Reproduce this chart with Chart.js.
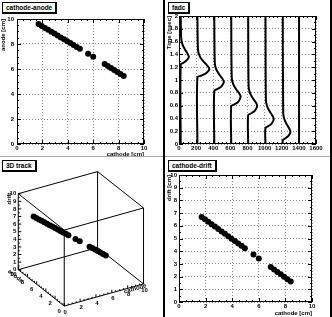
<!DOCTYPE html>
<html>
<head>
<meta charset="utf-8">
<script src="https://cdn.jsdelivr.net/npm/chart.js@4.4.1/dist/chart.umd.min.js"></script>
<style>
  body { margin: 0; background: #fff; }
  #toile { position: relative; width: 332px; height: 317px; overflow: hidden; background: #fff; }
  .pad { position: absolute; }
  .pad canvas { position: absolute; left: 0; top: 0; }
  .titre { position: absolute; left: 2px; top: 2px; background: #fff; border: 1px solid #000;
           border-right-width: 2px; border-bottom-width: 2px; padding: 0 3px; height: 9px;
           font: bold 6.5px "Liberation Sans", Arial, sans-serif; line-height: 9px; white-space: nowrap; }
  .trait { position: absolute; }
</style>
</head>
<body>
<div id="toile">
  <div class="pad" style="left:0;top:0"><canvas id="g1" width="166" height="158"></canvas><div class="titre">cathode-anode</div></div>
  <div class="pad" style="left:166px;top:0"><canvas id="g2" width="166" height="158"></canvas><div class="titre">fadc</div></div>
  <div class="pad" style="left:0;top:158px"><canvas id="g3" width="166" height="159"></canvas><div class="titre">3D track</div></div>
  <div class="pad" style="left:166px;top:158px"><canvas id="g4" width="166" height="159"></canvas><div class="titre">cathode-drift</div></div>
  <div class="trait" style="left:0;top:156px;width:332px;height:1px;background:#aaa"></div>
  <div class="trait" style="left:163px;top:0;width:2px;height:317px;background:#000"></div>
  <div class="trait" style="left:330px;top:0;width:2px;height:317px;background:#000"></div>
</div>
<script>
// Points de la trace (cm)
const cathode = [1.7, 1.95, 2.2, 2.45, 2.7, 2.95, 3.2, 3.45, 3.7, 3.95, 4.2, 4.45, 4.7, 4.95, 5.6, 6.0, 6.9, 7.15, 7.4, 7.65, 7.9, 8.15, 8.4];
const anode   = [9.6, 9.45, 9.29, 9.14, 8.99, 8.84, 8.69, 8.53, 8.38, 8.23, 8.08, 7.92, 7.77, 7.62, 7.22, 6.98, 6.4, 6.24, 6.08, 5.92, 5.76, 5.6, 5.44];
const drift   = [6.7, 6.51, 6.32, 6.13, 5.94, 5.75, 5.56, 5.37, 5.18, 4.99, 4.8, 4.61, 4.42, 4.23, 3.74, 3.43, 2.75, 2.56, 2.37, 2.18, 1.99, 1.8, 1.61];

// Signaux fadc : temps (nsec) et amplitude pour chaque voie
const fadcTemps = [
  [0, 1.24, 1.27, 1.31, 1.36, 1.42, 1.48, 1.56, 1.66, 2],
  [0, 1.04, 1.07, 1.11, 1.17, 1.23, 1.29, 1.37, 1.47, 2],
  [0, 0.83, 0.86, 0.90, 0.97, 1.03, 1.09, 1.17, 1.27, 2],
  [0, 0.59, 0.62, 0.66, 0.74, 0.80, 0.86, 0.94, 1.04, 2],
  [0, 0.45, 0.48, 0.52, 0.60, 0.66, 0.72, 0.80, 0.90, 2],
  [0, 0.25, 0.28, 0.32, 0.39, 0.45, 0.51, 0.59, 0.69, 2],
  [0, 0.06, 0.09, 0.13, 0.19, 0.25, 0.31, 0.39, 0.49, 2],
  [0, 2]
];
const fadcValeurs = [
  [20, 20, 53, 91, 115, 96, 68, 39, 25, 20],
  [215, 215, 264, 320, 355, 327, 285, 243, 222, 215],
  [412, 412, 451, 496, 524, 502, 468, 434, 418, 412],
  [610, 610, 648, 692, 720, 698, 665, 632, 616, 610],
  [808, 808, 845, 887, 913, 892, 860, 829, 813, 808],
  [1010, 1010, 1044, 1083, 1107, 1088, 1058, 1029, 1015, 1010],
  [1212, 1212, 1243, 1280, 1302, 1284, 1257, 1230, 1217, 1212],
  [1402, 1402]
];

// Graduations
const ticksCm = [0, 2, 4, 6, 8, 10];
const ticksDrift = [0, 1, 2, 3, 4, 5, 6, 7, 8, 9, 10];
const ticksFadc = [0, 200, 400, 600, 800, 1000, 1200, 1400, 1600];
const ticksTemps = [0, 0.2, 0.4, 0.6, 0.8, 1, 1.2, 1.4, 1.6, 1.8, 2];

const police = '"Liberation Sans", Arial, sans-serif';
const taille = 6;

// cadre et petites graduations façon ROOT
const cadreRoot = {
  id: 'cadreRoot',
  afterDraw(chart, args, opts) {
    if (!opts.on) return;
    const ctx = chart.ctx, a = chart.chartArea;
    const sx = chart.scales.x, sy = chart.scales.y;
    ctx.save();
    ctx.strokeStyle = '#000';
    ctx.lineWidth = 1;
    ctx.strokeRect(a.left + 0.5, a.top + 0.5, a.right - a.left - 1, a.bottom - a.top - 1);
    ctx.beginPath();
    const pasX = opts.xMineur, pasY = opts.yMineur;
    for (let v = sx.min; v <= sx.max + 1e-9; v += pasX) {
      const maj = sx.ticks.some(t => Math.abs(t.value - v) < 1e-6);
      const l = maj ? 4 : 2;
      const px = Math.round(sx.getPixelForValue(v)) + 0.5;
      ctx.moveTo(px, a.bottom); ctx.lineTo(px, a.bottom - l);
      ctx.moveTo(px, a.top); ctx.lineTo(px, a.top + l);
    }
    for (let v = sy.min; v <= sy.max + 1e-9; v += pasY) {
      const maj = sy.ticks.some(t => Math.abs(t.value - v) < 1e-6);
      const l = maj ? 4 : 2;
      const py = Math.round(sy.getPixelForValue(v)) + 0.5;
      ctx.moveTo(a.left, py); ctx.lineTo(a.left + l, py);
      ctx.moveTo(a.right, py); ctx.lineTo(a.right - l, py);
    }
    ctx.stroke();
    ctx.restore();
  }
};

function axe(o) {
  return {
    type: 'linear', min: o.min, max: o.max,
    afterBuildTicks: s => { s.ticks = o.ticks.map(v => ({ value: v })); },
    afterFit: s => { if (o.w != null) s.width = o.w; if (o.h != null) s.height = o.h; },
    grid: { color: '#8a8a8a', lineWidth: 1, drawTicks: false },
    border: { display: false, dash: [1, 2] },
    ticks: { color: '#000', padding: o.pad, maxRotation: 0, autoSkip: false,
             callback: v => String(v),
             font: { family: police, size: taille, weight: 'bold' } },
    title: { display: !!o.titre, text: o.titre, align: 'end', color: '#000', padding: 0,
             font: { family: police, size: taille, weight: 'bold' } }
  };
}

function optionsPlan(o) {
  return {
    animation: false, responsive: false, devicePixelRatio: 1,
    layout: { padding: { left: 0, top: o.haut, right: o.droite, bottom: 0 } },
    plugins: { legend: { display: false }, tooltip: { enabled: false },
               cadreRoot: { on: true, xMineur: o.xMineur, yMineur: o.yMineur } },
    scales: { x: o.x, y: o.y }
  };
}

function points(xs, ys) { return xs.map((v, i) => ({ x: v, y: ys[i] })); }

const styleRond = { pointRadius: 3, pointBackgroundColor: '#000', pointBorderWidth: 0, showLine: false };

// pad 1 : cathode-anode
new Chart(document.getElementById('g1'), {
  type: 'scatter',
  data: { datasets: [{ data: points(cathode, anode), ...styleRond }] },
  options: optionsPlan({
    haut: 19, droite: 22, xMineur: 0.5, yMineur: 0.5,
    x: axe({ min: 0, max: 10, ticks: ticksCm, h: 14, pad: 1, titre: 'cathode [cm]' }),
    y: axe({ min: 0, max: 10, ticks: ticksCm, w: 17, pad: 3, titre: 'anode [cm]' })
  }),
  plugins: [cadreRoot]
});

// pad 2 : fadc
new Chart(document.getElementById('g2'), {
  type: 'scatter',
  data: {
    datasets: fadcValeurs.map((vals, i) => ({
      data: points(vals, fadcTemps[i]), showLine: true, pointRadius: 0,
      borderColor: '#000', borderWidth: 2, tension: 0.3
    }))
  },
  options: optionsPlan({
    haut: 16, droite: 16, xMineur: 50, yMineur: 0.1,
    x: axe({ min: 0, max: 1600, ticks: ticksFadc, h: 14, pad: 1 }),
    y: axe({ min: 0, max: 2, ticks: ticksTemps, w: 13, pad: 1, titre: 'Time [nsec]' })
  }),
  plugins: [cadreRoot]
});

// pad 3 : vue 3D (projection oblique de la boîte 10x10x10)
const vue = { ox: 63.3, oy: 151.7, cx: 8.33, cy: -2.33, ax: -4.83, ay: -3.83, dy: -8.0 };
function projeter(c, a, d) {
  return { x: vue.ox + c * vue.cx + a * vue.ax, y: vue.oy + c * vue.cy + a * vue.ay + d * vue.dy };
}

const boite3d = {
  id: 'boite3d',
  beforeDatasetsDraw(chart) {
    const ctx = chart.ctx, sx = chart.scales.x, sy = chart.scales.y;
    const P = (c, a, d) => { const p = projeter(c, a, d); return [sx.getPixelForValue(p.x), sy.getPixelForValue(p.y)]; };
    const ligne = (p, q) => { ctx.moveTo(p[0], p[1]); ctx.lineTo(q[0], q[1]); };
    ctx.save();
    ctx.strokeStyle = '#000';
    ctx.lineWidth = 1;
    ctx.beginPath();
    const coins = [[0, 0], [10, 0], [10, 10], [0, 10]];
    for (let i = 0; i < 4; i++) {
      const [c1, a1] = coins[i], [c2, a2] = coins[(i + 1) % 4];
      ligne(P(c1, a1, 0), P(c2, a2, 0));
      ligne(P(c1, a1, 10), P(c2, a2, 10));
      ligne(P(c1, a1, 0), P(c1, a1, 10));
    }
    // graduations
    for (let v = 0; v <= 10.001; v += 0.5) {
      const maj = Math.abs(v - Math.round(v / 2) * 2) < 1e-6;
      const l = maj ? 3 : 1.5;
      let p = P(v, 0, 0); ctx.moveTo(p[0], p[1]); ctx.lineTo(p[0], p[1] - l);
      p = P(0, v, 0); ctx.moveTo(p[0], p[1]); ctx.lineTo(p[0], p[1] - l);
      p = P(0, 10, v); const majD = Math.abs(v - Math.round(v)) < 1e-6;
      ctx.moveTo(p[0], p[1]); ctx.lineTo(p[0] + (majD ? 3 : 1.5), p[1]);
    }
    ctx.stroke();
    // étiquettes
    ctx.fillStyle = '#000';
    ctx.font = 'bold ' + taille + 'px ' + police;
    ctx.textBaseline = 'middle';
    ctx.textAlign = 'center';
    ticksCm.forEach(v => {
      let p = P(v, 0, 0); ctx.fillText(String(v), p[0] + 1, p[1] + 6);
      p = P(0, v, 0); ctx.fillText(String(v), p[0] - 5, p[1] + 5);
    });
    ctx.textAlign = 'right';
    ticksDrift.forEach(v => { const p = P(0, 10, v); ctx.fillText(String(v), p[0] - 2, p[1]); });
    // titres des axes
    let p = P(0, 10, 10);
    ctx.save(); ctx.translate(p[0] - 9, p[1] - 1); ctx.rotate(-Math.PI / 2);
    ctx.textAlign = 'right'; ctx.fillText('drift', 0, 0); ctx.restore();
    p = P(0, 9.3, 0);
    ctx.save(); ctx.translate(p[0] - 6, p[1] + 4); ctx.rotate(Math.atan2(-vue.ay, -vue.ax));
    ctx.textAlign = 'center'; ctx.fillText('anode', 0, 0); ctx.restore();
    p = P(9.2, 0, 0);
    ctx.save(); ctx.translate(p[0] - 2, p[1] + 3); ctx.rotate(Math.atan2(vue.cy, vue.cx));
    ctx.textAlign = 'center'; ctx.fillText('cathode', 0, 0); ctx.restore();
    ctx.restore();
  }
};

new Chart(document.getElementById('g3'), {
  type: 'scatter',
  data: { datasets: [{ data: cathode.map((c, i) => projeter(c, anode[i], drift[i])), ...styleRond }] },
  options: {
    animation: false, responsive: false, devicePixelRatio: 1,
    layout: { padding: 0 },
    plugins: { legend: { display: false }, tooltip: { enabled: false } },
    scales: {
      x: { type: 'linear', min: 0, max: 166, display: false },
      y: { type: 'linear', min: 0, max: 159, reverse: true, display: false }
    }
  },
  plugins: [boite3d]
});

// pad 4 : cathode-drift
new Chart(document.getElementById('g4'), {
  type: 'scatter',
  data: { datasets: [{ data: points(cathode, drift), ...styleRond }] },
  options: optionsPlan({
    haut: 17, droite: 20, xMineur: 0.5, yMineur: 0.5,
    x: axe({ min: 0, max: 10, ticks: ticksCm, h: 15, pad: 1, titre: 'cathode [cm]' }),
    y: axe({ min: 0, max: 10, ticks: ticksDrift, w: 13, pad: 2, titre: 'drift [cm]' })
  }),
  plugins: [cadreRoot]
});
</script>
</body>
</html>
